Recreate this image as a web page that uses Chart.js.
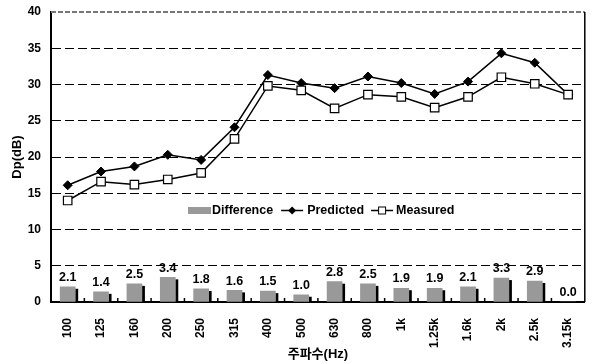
<!DOCTYPE html>
<html><head><meta charset="utf-8">
<script src="https://cdn.jsdelivr.net/npm/chart.js@4/dist/chart.umd.min.js"></script>
<style>html,body{margin:0;padding:0;background:#fff}#wrap{width:592px;height:364px}</style>
</head><body><div id="wrap"><canvas id="c" width="592" height="364"></canvas></div>
<script>
const categories = ['100','125','160','200','250','315','400','500','630','800','1k','1.25k','1.6k','2k','2.5k','3.15k'];
const predicted  = [16.1,18.0,18.7,20.3,19.6,24.1,31.3,30.2,29.5,31.1,30.2,28.7,30.4,34.3,33.0,28.6];
const measured   = [14.0,16.6,16.2,16.9,17.8,22.5,29.8,29.2,26.7,28.6,28.3,26.8,28.3,31.0,30.1,28.6];
const difference = [2.1,1.4,2.5,3.4,1.8,1.6,1.5,1.0,2.8,2.5,1.9,1.9,2.1,3.3,2.9,0.0];
const yMin = 0, yMax = 40, yStep = 5;
const seriesNames = ['Difference','Predicted','Measured'];
const xTitle = '주파수(Hz)';
const yTitle = 'Dp(dB)';

const FONT = "'Liberation Sans', Arial, 'Noto Sans CJK KR', sans-serif";

const extras = {
  id: 'extras',
  beforeDatasetsDraw(chart) {
    const ctx = chart.ctx, ca = chart.chartArea;
    ctx.save();
    ctx.strokeStyle = '#777';
    ctx.lineWidth = 2;
    ctx.setLineDash([5, 2]);
    ctx.beginPath(); ctx.moveTo(ca.left, ca.top); ctx.lineTo(ca.right, ca.top); ctx.stroke();
    ctx.setLineDash([]);
    ctx.strokeStyle = '#000';
    ctx.lineWidth = 1.5;
    ctx.beginPath(); ctx.moveTo(ca.right, ca.top); ctx.lineTo(ca.right, ca.bottom); ctx.stroke();
    const meta = chart.getDatasetMeta(0);
    ctx.fillStyle = '#000';
    meta.data.forEach(el => {
      const p = el.getProps(['x','y','base','width'], true);
      const h = p.base - p.y - 2;
      if (h > 0) ctx.fillRect(p.x + p.width/2, p.y + 2, 3, h);
    });
    ctx.restore();
  },
  afterDatasetsDraw(chart) {
    const ctx = chart.ctx, ca = chart.chartArea;
    const xs = chart.scales.x;
    ctx.save();
    ctx.strokeStyle = '#000';
    ctx.lineWidth = 1.5;
    for (let i = 1; i < categories.length; i++) {
      const x = (xs.getPixelForValue(i-1) + xs.getPixelForValue(i)) / 2;
      ctx.beginPath(); ctx.moveTo(x, ca.bottom); ctx.lineTo(x, ca.bottom - 4); ctx.stroke();
    }
    const meta = chart.getDatasetMeta(0);
    ctx.fillStyle = '#000';
    ctx.font = 'bold 12.5px ' + FONT;
    ctx.textAlign = 'center';
    ctx.textBaseline = 'bottom';
    meta.data.forEach((el, i) => {
      const p = el.getProps(['x','y'], true);
      ctx.fillText(difference[i].toFixed(1), p.x, p.y - 3);
    });
    const ly = 210.5;
    let lx = 188;
    ctx.font = 'bold 12.5px ' + FONT;
    ctx.textAlign = 'left';
    ctx.textBaseline = 'middle';
    ctx.fillStyle = '#999';
    ctx.fillRect(lx, ly - 3.5, 23, 7);
    ctx.fillStyle = '#000';
    lx += 24;
    ctx.fillText(seriesNames[0], lx, ly);
    lx += ctx.measureText(seriesNames[0]).width + 8;
    ctx.lineWidth = 1.5;
    ctx.beginPath(); ctx.moveTo(lx, ly); ctx.lineTo(lx + 22, ly); ctx.stroke();
    ctx.beginPath();
    ctx.moveTo(lx + 11, ly - 4); ctx.lineTo(lx + 15, ly); ctx.lineTo(lx + 11, ly + 4); ctx.lineTo(lx + 7, ly); ctx.closePath();
    ctx.fill();
    lx += 26;
    ctx.fillText(seriesNames[1], lx, ly);
    lx += ctx.measureText(seriesNames[1]).width + 7;
    ctx.beginPath(); ctx.moveTo(lx, ly); ctx.lineTo(lx + 22, ly); ctx.stroke();
    ctx.fillStyle = '#fff';
    ctx.fillRect(lx + 7.5, ly - 3.5, 7, 7);
    ctx.lineWidth = 1;
    ctx.strokeRect(lx + 7.5, ly - 3.5, 7, 7);
    ctx.fillStyle = '#000';
    lx += 25;
    ctx.fillText(seriesNames[2], lx, ly);
    ctx.restore();
  }
};

const yTickVals = [];
for (let v = yMin; v <= yMax; v += yStep) yTickVals.push(v);

new Chart(document.getElementById('c'), {
  type: 'bar',
  data: {
    labels: categories,
    datasets: [
      { type: 'bar', label: seriesNames[0], data: difference, backgroundColor: '#999999',
        barThickness: 15, order: 3 },
      { type: 'line', label: seriesNames[1], data: predicted, borderColor: '#000', borderWidth: 1.5,
        pointStyle: 'rectRot', pointRadius: 4.5, pointBackgroundColor: '#000', pointBorderColor: '#000',
        pointBorderWidth: 1, tension: 0, order: 2 },
      { type: 'line', label: seriesNames[2], data: measured, borderColor: '#000', borderWidth: 1.5,
        pointStyle: 'rect', pointRadius: 6, pointBackgroundColor: '#fff', pointBorderColor: '#000',
        pointBorderWidth: 1.2, tension: 0, order: 1 }
    ]
  },
  options: {
    responsive: false,
    devicePixelRatio: 1,
    animation: false,
    layout: { padding: { top: 12, right: 4, left: 0, bottom: 0 } },
    plugins: { legend: { display: false }, tooltip: { enabled: false } },
    scales: {
      x: {
        offset: true,
        grid: { display: false },
        border: { display: true, color: '#000', width: 2 },
        ticks: { color: '#000', font: { family: FONT, size: 12, weight: 'bold' },
                 minRotation: 90, maxRotation: 90, padding: 8, autoSkip: false },
        title: { display: true, text: xTitle, color: '#000',
                 font: { family: FONT, size: 13, weight: 'bold' }, padding: { top: 0, bottom: 2 } },
        afterFit: s => { s.height = 62; }
      },
      y: {
        min: yMin, max: yMax,
        afterBuildTicks: s => { s.ticks = yTickVals.map(v => ({ value: v })); },
        grid: {
          drawTicks: true,
          tickLength: 8,
          tickColor: 'rgba(0,0,0,0)',
          color: c => (c.tick && (c.tick.value === yMin || c.tick.value === yMax)) ? 'rgba(0,0,0,0)' : '#000',
          lineWidth: 1
        },
        border: { display: true, color: '#000', width: 2, dash: [9, 4] },
        ticks: { color: '#000', font: { family: FONT, size: 12, weight: 'bold' }, padding: 2 },
        title: { display: true, text: yTitle, color: '#000',
                 font: { family: FONT, size: 13, weight: 'bold' }, padding: { top: 10, bottom: 0 } },
        afterFit: s => { s.width = 51; }
      }
    }
  },
  plugins: [extras]
});
</script>
</body></html>
